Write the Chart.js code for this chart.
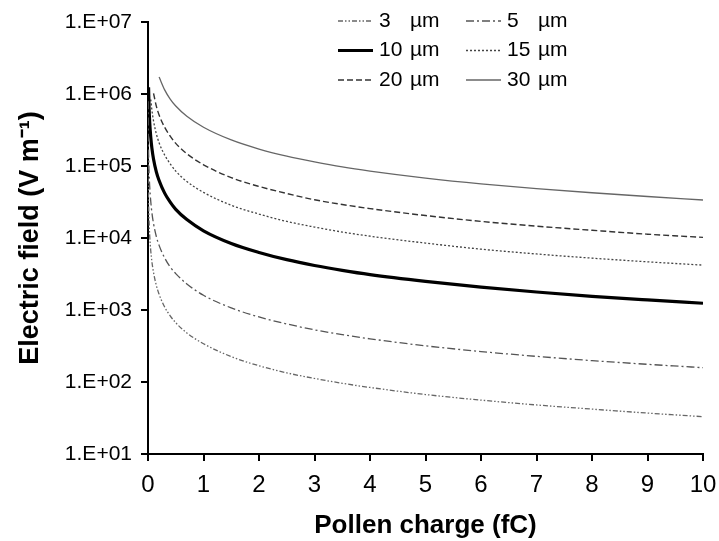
<!DOCTYPE html>
<html>
<head>
<meta charset="utf-8">
<script src="https://cdn.jsdelivr.net/npm/chart.js@4.4.1/dist/chart.umd.min.js"></script>
<style>
  body { margin: 0; background: #fff; }
</style>
</head>
<body>
<canvas id="fieldChart" width="719" height="541"></canvas>
<script>
// pollen charge (fC) at which the curves were read
const charge = [0.002, 0.005, 0.01, 0.02, 0.03, 0.05, 0.07, 0.1, 0.15, 0.2, 0.3, 0.4, 0.5, 0.7,
                1, 1.5, 2, 2.5, 3, 3.5, 4, 5, 6, 7, 8, 9, 10];

// pollen diameters (µm)
const diameters = [3, 5, 10, 15, 20, 30];

// electric field (V m-1)
const field3 = [1.65e5, 6.6e4, 3.3e4, 1.65e4, 1.1e4, 6.6e3, 4.7e3, 3.3e3, 2.2e3, 1.65e3, 1.1e3, 830, 665, 480,
                340, 225, 168, 134, 112, 96, 84, 67, 56, 48, 42, 37, 33];
const field5 = [7.9e5, 3.2e5, 1.58e5, 7.9e4, 5.3e4, 3.2e4, 2.26e4, 1.58e4, 1.05e4, 7.9e3, 5.3e3, 3.95e3, 3.2e3, 2.3e3,
                1.6e3, 1.07e3, 800, 640, 530, 455, 398, 318, 265, 227, 198, 176, 158];
const field10 = [null, null, 1.24e6, 6.2e5, 4.1e5, 2.5e5, 1.77e5, 1.24e5, 8.3e4, 6.3e4, 4.2e4, 3.15e4, 2.5e4, 1.8e4,
                 1.26e4, 8.4e3, 6.3e3, 5.0e3, 4.15e3, 3.55e3, 3.1e3, 2.5e3, 2.08e3, 1.78e3, 1.55e3, 1.38e3, 1.24e3];
const field15 = [null, null, null, null, null, 8.4e5, 6.0e5, 4.2e5, 2.8e5, 2.1e5, 1.42e5, 1.07e5, 8.5e4, 6.1e4,
                 4.3e4, 2.85e4, 2.15e4, 1.7e4, 1.42e4, 1.21e4, 1.06e4, 8.5e3, 7.0e3, 6.0e3, 5.25e3, 4.67e3, 4.2e3];
const field20 = [null, null, null, null, null, null, null, 1.02e6, 6.8e5, 5.1e5, 3.45e5, 2.6e5, 2.06e5, 1.48e5,
                 1.04e5, 6.9e4, 5.2e4, 4.15e4, 3.4e4, 2.92e4, 2.56e4, 2.05e4, 1.7e4, 1.46e4, 1.28e4, 1.13e4, 1.02e4];
const field30 = [null, null, null, null, null, null, null, null, null, 1.72e6, 1.14e6, 8.5e5, 6.8e5, 4.9e5,
                 3.45e5, 2.3e5, 1.72e5, 1.37e5, 1.14e5, 9.7e4, 8.5e4, 6.8e4, 5.65e4, 4.85e4, 4.25e4, 3.77e4, 3.37e4];

const yTicks = [1e1, 1e2, 1e3, 1e4, 1e5, 1e6, 1e7];
const yTickLabels = ['1.E+01', '1.E+02', '1.E+03', '1.E+04', '1.E+05', '1.E+06', '1.E+07'];

const fields = [field3, field5, field10, field15, field20, field30];
const styles = [
    { color: '#666', width: 1.3, dash: [5, 2, 1.5, 2, 1.5, 2] },
    { color: '#555', width: 1.3, dash: [8, 3, 2, 3] },
    { color: '#000', width: 3.2, dash: [] },
    { color: '#444', width: 1.3, dash: [2, 2] },
    { color: '#333', width: 1.4, dash: [6, 3] },
    { color: '#666', width: 1.3, dash: [] }
];

const datasets = diameters.map((d, i) => ({
    label: d + ' µm',
    data: charge.map((q, j) => ({ x: q, y: fields[i][j] })),
    borderColor: styles[i].color,
    borderWidth: styles[i].width,
    borderDash: styles[i].dash,
    pointRadius: 0,
    fill: false,
    cubicInterpolationMode: 'monotone'
}));

// two column legend inside the plot, top right
const boxLegend = {
    id: 'boxLegend',
    afterDraw(chart) {
        const ctx = chart.ctx;
        ctx.save();
        ctx.font = '21px "Liberation Sans", Arial, sans-serif';
        ctx.fillStyle = '#000';
        ctx.textBaseline = 'middle';
        chart.data.datasets.forEach((ds, i) => {
            const col = i % 2, row = Math.floor(i / 2);
            const x = 338 + col * 128;
            const y = 21 + row * 29.5;
            ctx.beginPath();
            ctx.strokeStyle = ds.borderColor;
            ctx.lineWidth = ds.borderWidth;
            ctx.setLineDash(ds.borderDash);
            ctx.moveTo(x, y);
            ctx.lineTo(x + 35, y);
            ctx.stroke();
            ctx.setLineDash([]);
            ctx.fillText(String(diameters[i]), x + 41, y);
            ctx.fillText('µm', x + 72, y);
        });
        ctx.restore();
    }
};

new Chart(document.getElementById('fieldChart'), {
    type: 'line',
    data: { datasets: datasets },
    options: {
        responsive: false,
        animation: false,
        layout: { padding: { top: 22, right: 16, left: 0, bottom: 0 } },
        plugins: {
            legend: { display: false },
            tooltip: { enabled: false }
        },
        scales: {
            x: {
                type: 'linear',
                min: 0,
                max: 10,
                afterFit: s => { s.height = 87; s.paddingLeft = 0; s.paddingRight = 0; },
                border: { color: '#000', width: 2 },
                grid: { drawOnChartArea: false, drawTicks: true, tickLength: 7, color: '#000', lineWidth: 2 },
                ticks: {
                    stepSize: 1,
                    color: '#000',
                    padding: 10,
                    font: { family: '"Liberation Sans", Arial, sans-serif', size: 24 }
                },
                title: {
                    display: true,
                    text: 'Pollen charge (fC)',
                    color: '#000',
                    padding: { bottom: 0 },
                    font: { family: '"Liberation Sans", Arial, sans-serif', size: 26, weight: 'bold' }
                }
            },
            y: {
                type: 'logarithmic',
                min: 1e1,
                max: 1e7,
                afterFit: s => { s.width = 148; s.paddingTop = 0; s.paddingBottom = 0; },
                afterBuildTicks: s => { s.ticks = yTicks.map(v => ({ value: v })); },
                border: { color: '#000', width: 2 },
                grid: { drawOnChartArea: false, drawTicks: true, tickLength: 7, color: '#000', lineWidth: 2 },
                ticks: {
                    color: '#000',
                    padding: 9,
                    font: { family: '"Liberation Sans", Arial, sans-serif', size: 21 },
                    callback: (v, i) => yTickLabels[i]
                },
                title: {
                    display: true,
                    text: 'Electric field (V m⁻¹)',
                    color: '#000',
                    padding: { top: 14 },
                    font: { family: '"Liberation Sans", Arial, sans-serif', size: 27, weight: 'bold' }
                }
            }
        }
    },
    plugins: [boxLegend]
});
</script>
</body>
</html>
